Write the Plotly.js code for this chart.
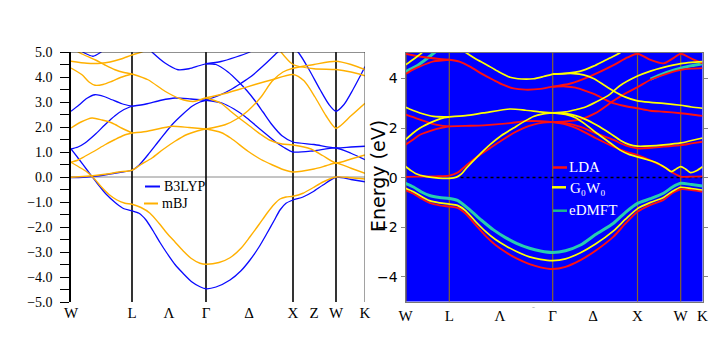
<!DOCTYPE html>
<html>
<head>
<meta charset="utf-8">
<script src="https://cdn.plot.ly/plotly-3.0.1.min.js"></script>
<style>html,body{margin:0;padding:0;background:#fff}#chart{width:720px;height:356px}</style>
</head>
<body>
<div id="chart"></div>
<script>
// ---------- LEFT PANEL: B3LYP vs mBJ (k in path units, E in eV) ----------
const leftTickK = [0, 61, 98, 135, 178, 222, 243, 265, 294];
const leftTickLabels = ['W', 'L', 'Λ', 'Γ', 'Δ', 'X', 'Z', 'W', 'K'];
const leftSymLines = [61, 135, 222, 265];
const leftYMajor = [-5, -4, -3, -2, -1, 0, 1, 2, 3, 4, 5];
const leftYMinor = [-4.5, -3.5, -2.5, -1.5, -0.5, 0.5, 1.5, 2.5, 3.5, 4.5];

const b3lypValence = [[0,1.12],[7,0.76],[17,0.23],[26,-0.24],[35,-0.68],[45,-1.05],[53,-1.27],[61,-1.35],[68,-1.45],[75,-1.72],[82,-2.15],[89,-2.62],[96,-3.05],[104,-3.5],[112,-3.85],[121,-4.2],[129,-4.39],[135,-4.47],[145,-4.4],[159,-4.12],[170,-3.75],[179,-3.32],[188,-2.8],[196,-2.25],[203,-1.75],[209,-1.32],[215,-1.05],[222,-0.92],[232,-0.8],[242,-0.59],[252,-0.32],[265,-0.01],[280,-0.1],[294,-0.19]];
const b3lypLow = [[0,-0.02],[12,-0.01],[24,0.03],[36,0.1],[48,0.18],[61,0.27],[68,0.47],[77,0.89],[89,1.5],[101,2.09],[112,2.52],[121,2.83],[129,3.0],[135,3.07]];
const b3lypW1 = [[0,1.12],[7,1.2],[14,1.36],[24,1.7],[34,2.09],[44,2.45],[53,2.7],[61,2.83]];
const b3lypW2 = [[0,2.63],[8,2.88],[16,3.15],[24,3.29],[33,3.22],[41,3.09],[51,2.93],[61,2.83]];
const b3lypL = [[61,2.83],[75,2.92],[90,3.07],[104,3.16],[120,3.12],[135,3.07]];
const b3lypTopW = [[0,5.25],[8,5.1],[14,4.95],[22,4.83],[29,4.97],[36,5.2]];
const b3lypTopL = [[76,5.2],[82,4.96],[94,4.56],[107,4.29],[118,4.33],[128,4.45],[135,4.53]];
const b3lypGa = [[135,4.53],[150,4.62],[165,4.8],[177,4.97],[188,5.2]];
const b3lypGb = [[135,4.53],[145,4.5],[157,4.2],[167,3.83],[176,3.45],[184,3.05],[192,2.6],[201,2.09],[211,1.65],[222,1.4],[243,1.3],[265,1.16],[280,1.2],[294,1.23]];
const b3lypGc = [[135,3.07],[151,2.96],[163,2.72],[174,2.42],[185,2.05],[194,1.75],[204,1.42],[213,1.18],[222,1.0],[243,1.05],[265,1.16],[280,0.95],[294,0.69]];
const b3lypGe = [[135,3.07],[150,3.3],[160,3.5],[170,3.75],[180,4.02],[192,4.44],[206,4.97],[214,5.25]];
const b3lypXW = [[219,5.3],[228,4.95],[238,4.3],[249,3.5],[258,2.9],[265,2.63],[273,2.9],[282,3.5],[290,4.1],[294,4.42]];

const mbjValence = [[0,0.59],[8,0.4],[16,0.2],[24,-0.1],[30,-0.38],[38,-0.7],[46,-0.92],[54,-1.05],[61,-1.09],[70,-1.22],[79,-1.45],[88,-1.85],[96,-2.25],[104,-2.6],[112,-2.95],[120,-3.25],[129,-3.45],[135,-3.49],[148,-3.42],[159,-3.23],[170,-2.85],[179,-2.39],[188,-1.9],[196,-1.45],[203,-1.1],[209,-0.88],[215,-0.8],[222,-0.77],[232,-0.65],[242,-0.43],[252,-0.2],[265,0.0],[280,-0.03],[294,-0.08]];
const mbjLow = [[0,-0.01],[12,0.02],[24,0.06],[36,0.12],[48,0.2],[61,0.27],[70,0.5],[81,0.76],[92,1.1],[104,1.43],[116,1.7],[127,1.85],[135,1.92]];
const mbjW1 = [[0,0.59],[7,0.68],[14,0.83],[24,1.05],[34,1.29],[44,1.5],[53,1.67],[61,1.76]];
const mbjW2 = [[0,1.96],[10,2.2],[21,2.36],[31,2.28],[41,2.16],[51,1.95],[61,1.76]];
const mbjL = [[61,1.76],[75,1.82],[90,1.95],[101,2.03],[118,1.98],[135,1.92]];
const mbjTop1 = [[0,4.63],[16,4.55],[30,4.55],[39,4.6],[50,4.72],[61,4.88],[70,4.99],[80,5.15]];
const mbjTop2 = [[0,5.2],[9,4.96],[24,4.69],[34,4.48],[44,4.29],[53,4.18],[61,4.12]];
const mbjTop3 = [[0,4.36],[11,4.09],[18,3.8],[24,3.67],[32,3.7],[41,3.83],[51,4.0],[61,4.12]];
const mbjLG = [[61,4.12],[77,3.89],[94,3.43],[109,3.13],[122,3.02],[135,3.17]];
const mbjGa = [[135,3.17],[150,3.3],[167,3.49],[184,3.7],[201,3.89],[222,4.1],[233,3.85],[244,3.2],[255,2.45],[265,1.95],[280,2.45],[294,2.95]];
const mbjGb = [[135,3.17],[150,2.95],[159,2.65],[170,2.3],[179,2.03],[190,1.7],[199,1.47],[211,1.32],[222,1.28],[240,1.12],[252,0.85],[265,0.56],[280,0.72],[294,0.88]];
const mbjGc = [[135,1.92],[150,1.78],[160,1.55],[177,1.03],[190,0.7],[201,0.49],[212,0.3],[222,0.2],[243,0.32],[255,0.45],[265,0.56],[280,0.35],[294,0.15]];
const mbjGe = [[135,1.92],[154,2.09],[167,2.35],[177,2.65],[190,3.2],[201,3.83],[212,4.2],[222,4.35],[243,4.5],[265,4.63],[280,4.5],[294,4.3]];
const mbjXg = [[208,5.1],[222,4.5],[243,4.33],[265,4.3],[280,4.2],[294,4.05]];

// ---------- RIGHT PANEL: LDA, G0W0, eDMFT ----------
const rightTickK = [0, 43.8, 94.5, 147.2, 187.5, 232, 275.2, 297];
const rightTickLabels = ['W', 'L', 'Λ', 'Γ', 'Δ', 'X', 'W', 'K'];
const rightSymLines = [0, 43.8, 147.2, 232, 275.2];
const rightYTicks = [-4, -2, 0, 2, 4];

const ldaValence = [[0,-0.5],[8,-0.65],[16,-0.85],[24,-1.02],[34,-1.12],[43.8,-1.17],[52,-1.22],[60,-1.45],[70,-1.9],[80,-2.35],[90,-2.72],[100,-3.0],[111,-3.26],[124,-3.49],[135,-3.62],[147.2,-3.69],[160,-3.6],[175,-3.33],[190,-2.95],[208,-2.38],[220,-1.85],[232,-1.38],[245,-1.1],[258,-0.9],[267,-0.62],[275.2,-0.47],[286,-0.5],[297,-0.57]];
const ldaC0 = [[0,0.03],[15,0.04],[30,0.05],[43.8,0.08],[52,0.2],[61,0.5],[72,0.85],[84.5,1.19],[96,1.5],[108,1.8],[118,2.0],[128,2.14],[138,2.22],[147.2,2.24]];
const ldaC1 = [[0,1.33],[7,1.52],[14.5,1.73],[28,1.93],[36,2.01],[43.8,2.07]];
const ldaC2 = [[0,2.54],[7,2.45],[14.5,2.34],[28,2.16],[36,2.1],[43.8,2.07]];
const ldaC3 = [[43.8,2.07],[60,2.09],[78,2.11],[104.5,2.2],[120,2.28],[135,2.28],[147.2,2.24]];
const ldaC4 = [[0,4.18],[7,4.35],[14.5,4.49],[28,4.69],[43.8,4.76]];
const ldaC5 = [[0,5.0],[10,4.92],[21,4.85],[32,4.8],[43.8,4.76]];
const ldaC6 = [[43.8,4.76],[54,4.68],[64.5,4.48],[76,4.2],[88,3.94],[98,3.74],[108,3.6],[120,3.55],[135,3.58],[147.2,3.67]];
const ldaD1 = [[147.2,3.67],[160,3.68],[170,3.63],[180,3.5],[191,3.33],[205,3.05],[218,2.9],[232,2.8],[245,2.7],[258,2.66],[275.2,2.6],[286,2.55],[297,2.49]];
const ldaD2 = [[147.2,3.67],[165,3.8],[185,4.1],[208,4.54],[222,4.85],[232,5.0],[245,4.75],[258,4.61],[267,4.8],[275.2,5.0],[286,4.8],[297,4.61]];
const ldaD3 = [[147.2,2.24],[160,2.27],[175,2.35],[190,2.6],[208,3.1],[220,3.4],[232,3.65],[245,3.95],[258,4.15],[275.2,4.35],[286,4.4],[297,4.42]];
const ldaD4 = [[147.2,2.24],[160,2.2],[175,2.05],[190,1.8],[208,1.52],[220,1.3],[232,1.18],[245,1.2],[258,1.25],[275.2,1.31],[286,1.38],[297,1.45]];
const ldaD5 = [[147.2,2.24],[160,2.15],[175,1.92],[190,1.6],[208,1.25],[220,1.05],[232,0.91],[245,0.7],[258,0.44],[267,0.2],[275.2,0.04],[286,0.04],[297,0.05]];

const gwValence = [[0,-0.43],[8,-0.57],[16,-0.76],[24,-0.93],[34,-1.02],[43.8,-1.07],[52,-1.12],[60,-1.33],[70,-1.77],[80,-2.17],[90,-2.5],[100,-2.75],[111,-2.98],[124,-3.2],[135,-3.3],[147.2,-3.35],[160,-3.28],[175,-3.03],[190,-2.68],[208,-2.15],[220,-1.68],[232,-1.25],[245,-1.0],[258,-0.8],[267,-0.55],[275.2,-0.39],[286,-0.44],[297,-0.5]];
const gwC0 = [[0,0.45],[5,0.3],[10,0.17],[21,0.04],[33,-0.02],[43.8,-0.03],[51,0.02],[56,0.15],[61,0.39],[72,0.85],[84.5,1.33],[96,1.7],[108,2.0],[118,2.25],[128,2.47],[138,2.57],[147.2,2.61]];
const gwC1 = [[0,1.53],[7,1.78],[14.5,2.0],[28,2.27],[36,2.39],[43.8,2.45]];
const gwC2 = [[0,2.84],[7,2.72],[14.5,2.61],[28,2.47],[43.8,2.45]];
const gwC3 = [[43.8,2.45],[60,2.5],[78,2.61],[104.5,2.77],[120,2.72],[135,2.65],[147.2,2.61]];
const gwC4 = [[0,4.55],[8,4.78],[16,5.02],[22,5.3]];
const gwC5 = [[55,5.2],[61,5.03],[70,4.8],[81,4.56],[92,4.3],[104.5,4.05],[116,3.98],[128,3.99],[138,4.08],[147.2,4.18]];
const gwD1 = [[147.2,4.18],[160,4.2],[168,4.2],[178,4.15],[188,4.0],[198,3.75],[208,3.5],[220,3.25],[232,3.1],[245,3.04],[258,3.0],[275.2,2.92],[286,2.85],[297,2.8]];
const gwD2 = [[147.2,4.18],[162,4.22],[175,4.3],[188,4.5],[198,4.7],[208,4.9],[215,5.05],[222,5.3]];
const gwD3 = [[147.2,2.61],[160,2.65],[170,2.74],[180,2.85],[191,3.06],[204,3.35],[214,3.7],[232,4.1],[245,4.3],[258,4.45],[275.2,4.6],[286,4.65],[297,4.68]];
const gwD4 = [[147.2,2.61],[160,2.58],[170,2.5],[180,2.35],[191,2.12],[204,1.8],[215,1.5],[224,1.33],[232,1.27],[245,1.28],[258,1.32],[275.2,1.4],[286,1.5],[297,1.6]];
const gwD5 = [[147.2,2.61],[160,2.55],[170,2.42],[180,2.15],[191,1.8],[204,1.42],[215,1.1],[224,0.93],[232,0.84],[242,0.72],[251,0.6],[260,0.4],[266,0.24],[271,0.36],[275.2,0.44],[280,0.35],[285,0.2],[291,0.28],[297,0.44]];

const dmftValence = [[0,-0.23],[8,-0.38],[16,-0.58],[24,-0.72],[34,-0.8],[43.8,-0.84],[52,-0.92],[64.5,-1.31],[76,-1.72],[88,-2.11],[100,-2.42],[111,-2.65],[124,-2.85],[135,-2.96],[147.2,-3.02],[160,-2.95],[175,-2.72],[190,-2.3],[208,-1.84],[220,-1.4],[232,-1.04],[245,-0.85],[258,-0.63],[267,-0.38],[275.2,-0.23],[286,-0.28],[297,-0.34]];
const dmftTop1 = [[0,4.27],[5,4.38],[11,4.5],[18,4.7],[25,4.92],[30,5.08]];
const dmftTop2 = [[245,3.98],[255,4.15],[265,4.3],[275.2,4.42],[286,4.52],[297,4.6]];

// ---------- styling ----------
const C_B3LYP = '#0a0aff', C_MBJ = '#ffb000';
const C_LDA = '#ff1010', C_GW = '#ffff00', C_DMFT = 'rgb(40,205,175)';

const b3lypBands = [b3lypValence,b3lypLow,b3lypW1,b3lypW2,b3lypL,b3lypTopW,b3lypTopL,b3lypGa,b3lypGb,b3lypGc,b3lypGe,b3lypXW];
const mbjBands = [mbjValence,mbjLow,mbjW1,mbjW2,mbjL,mbjTop1,mbjTop2,mbjTop3,mbjLG,mbjGa,mbjGb,mbjGc,mbjGe,mbjXg];
const ldaBands = [ldaValence,ldaC0,ldaC1,ldaC2,ldaC3,ldaC4,ldaC5,ldaC6,ldaD1,ldaD2,ldaD3,ldaD4,ldaD5];
const gwBands = [gwValence,gwC0,gwC1,gwC2,gwC3,gwC4,gwC5,gwD1,gwD2,gwD3,gwD4,gwD5];
const dmftBands = [dmftValence,dmftTop1,dmftTop2];

function bandTrace(pts, color, width, xa, ya) {
  return {
    x: pts.map(p => p[0]), y: pts.map(p => p[1]),
    type: 'scatter', mode: 'lines', xaxis: xa, yaxis: ya,
    line: {color: color, width: width, shape: 'spline', smoothing: 0.7},
    hoverinfo: 'skip', showlegend: false
  };
}

const traces = [];
b3lypBands.forEach(b => traces.push(bandTrace(b, C_B3LYP, 1.3, 'x', 'y')));
mbjBands.forEach(b => traces.push(bandTrace(b, C_MBJ, 1.4, 'x', 'y')));
dmftBands.forEach(b => traces.push(bandTrace(b, C_DMFT, 3.0, 'x2', 'y2')));
ldaBands.forEach(b => traces.push(bandTrace(b, C_LDA, 1.9, 'x2', 'y2')));
gwBands.forEach(b => traces.push(bandTrace(b, C_GW, 1.7, 'x2', 'y2')));

// pixel helpers for paper coordinates (layout positioning only)
const W = 720, H = 356;
const px = v => v / W, py = v => (H - v) / H;

const shapes = [];
shapes.push({type:'rect', xref:'x2 domain', yref:'y2 domain', x0:0, x1:1, y0:0, y1:1, fillcolor:'#0000ff', line:{width:0}, layer:'below'});
shapes.push({type:'line', xref:'x', yref:'y', x0:0, x1:294, y0:0, y1:0, line:{color:'#8a8a8a', width:1}, layer:'below'});
leftSymLines.forEach(k => shapes.push({type:'line', xref:'x', yref:'y', x0:k, x1:k, y0:-5, y1:5, line:{color:'#000', width:1.6}, layer:'below'}));
shapes.push({type:'line', xref:'x', yref:'y', x0:0, x1:294, y0:5, y1:5, line:{color:'#222', width:1.2}});
shapes.push({type:'line', xref:'x', yref:'y', x0:294, x1:294, y0:-5, y1:5, line:{color:'#444', width:1}});
rightSymLines.forEach(k => shapes.push({type:'line', xref:'x2', yref:'y2 domain', x0:k, x1:k, y0:0, y1:1, line:{color:'rgb(135,100,45)', width: k === 0 ? 2.2 : 1.2}, layer:'below'}));
shapes.push({type:'line', xref:'x2', yref:'y2', x0:55, x1:297, y0:0, y1:0, line:{color:'#000', width:1.5, dash:'dot'}, layer:'below'});

// legend samples
shapes.push({type:'line', xref:'paper', yref:'paper', x0:px(145), x1:px(160), y0:py(186.5), y1:py(186.5), line:{color:C_B3LYP, width:2}});
shapes.push({type:'line', xref:'paper', yref:'paper', x0:px(144), x1:px(158), y0:py(203.5), y1:py(203.5), line:{color:C_MBJ, width:2}});
shapes.push({type:'line', xref:'paper', yref:'paper', x0:px(553), x1:px(567), y0:py(167.5), y1:py(167.5), line:{color:C_LDA, width:2.5}});
shapes.push({type:'line', xref:'paper', yref:'paper', x0:px(552), x1:px(566), y0:py(187.3), y1:py(187.3), line:{color:C_GW, width:2.5}});
shapes.push({type:'line', xref:'paper', yref:'paper', x0:px(553), x1:px(567), y0:py(210.7), y1:py(210.7), line:{color:'rgb(30,185,140)', width:2.5}});

const serif = 'Liberation Serif, DejaVu Serif, serif';
const annotations = [
  {xref:'paper', yref:'paper', x:px(162), y:py(186.5), xanchor:'left', yanchor:'middle', text:'B3LYP', showarrow:false, font:{family:serif, size:14, color:'#000'}},
  {xref:'paper', yref:'paper', x:px(160), y:py(203.5), xanchor:'left', yanchor:'middle', text:'mBJ', showarrow:false, font:{family:serif, size:14, color:'#000'}},
  {xref:'paper', yref:'paper', x:px(567), y:py(167), xanchor:'left', yanchor:'middle', text:'LDA', showarrow:false, font:{family:serif, size:15, color:'#fff'}},
  {xref:'paper', yref:'paper', x:px(568), y:py(188), xanchor:'left', yanchor:'middle', text:'G₀W₀', showarrow:false, font:{family:serif, size:15, color:'#fff'}},
  {xref:'paper', yref:'paper', x:px(567), y:py(210), xanchor:'left', yanchor:'middle', text:'eDMFT', showarrow:false, font:{family:serif, size:15, color:'#fff'}},
  {xref:'paper', yref:'paper', x:px(533), y:py(307), xanchor:'center', yanchor:'middle', text:'-', showarrow:false, font:{family:serif, size:9, color:'#aaa'}},
  {xref:'paper', yref:'paper', x:px(378), y:py(176), xanchor:'center', yanchor:'middle', textangle:-90, text:'Energy (eV)', showarrow:false, font:{family:'DejaVu Sans', size:19, color:'#000'}}
];

const layout = {
  width: W, height: H, margin: {l:0, r:0, t:0, b:0},
  paper_bgcolor: '#fff', plot_bgcolor: 'rgba(0,0,0,0)', showlegend: false,
  xaxis: {domain:[px(71), px(365)], range:[0,294], anchor:'y', showgrid:false, zeroline:false, showline:false,
          tickmode:'array', tickvals:leftTickK, ticktext:leftTickLabels, ticks:'',
          tickfont:{family:serif, size:15, color:'#000'}, automargin:false},
  yaxis: {domain:[py(302), py(52)], range:[-5,5], anchor:'x', showgrid:false, zeroline:false,
          showline:true, linecolor:'#000', linewidth:1.6,
          tickmode:'array', tickvals:leftYMajor, tickformat:'.1f', ticks:'outside', ticklen:9, tickwidth:1, tickcolor:'#000',
          minor:{tickmode:'array', tickvals:leftYMinor, ticks:'outside', ticklen:9, tickwidth:1, tickcolor:'#000', showgrid:false},
          ticklabelstandoff:5,
          tickfont:{family:serif, size:14, color:'#000'}, automargin:false},
  xaxis2: {domain:[px(405.5), px(702.5)], range:[0,297], anchor:'y2', showgrid:false, zeroline:false,
          showline:true, mirror:true, linecolor:'#777', linewidth:1,
          tickmode:'array', tickvals:rightTickK, ticktext:rightTickLabels, ticks:'',
          tickfont:{family:serif, size:15, color:'#000'}, automargin:false},
  yaxis2: {domain:[py(301.5), py(52.5)], range:[-5,5.05], anchor:'x2', showgrid:false, zeroline:false,
          showline:true, mirror:'ticks', linecolor:'#777', linewidth:1,
          tickmode:'array', tickvals:rightYTicks, ticks:'outside', ticklen:4, tickcolor:'#888',
          tickfont:{family:'DejaVu Sans', size:14, color:'#000'}, automargin:false},
  shapes: shapes,
  annotations: annotations
};

Plotly.newPlot('chart', traces, layout, {staticPlot:true, displayModeBar:false});
</script>
</body>
</html>
